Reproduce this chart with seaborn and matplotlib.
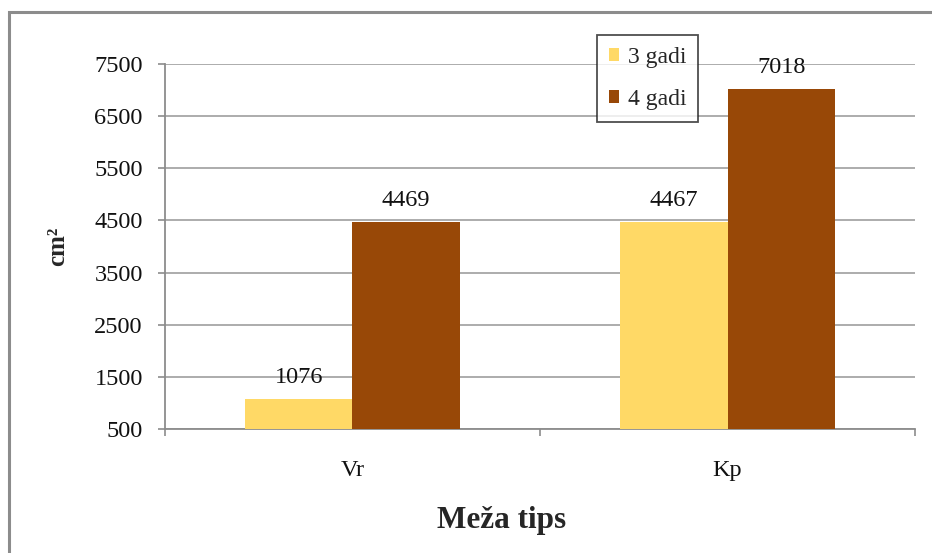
import matplotlib
matplotlib.use("Agg")
import matplotlib.pyplot as plt
import seaborn as sns
import pandas as pd
from matplotlib.patches import Rectangle

# Data
categories = ["Vr", "Kp"]
series_names = ["3 gadi", "4 gadi"]
values_3 = [1076, 4467]
values_4 = [4469, 7018]
y_ticks = [500, 1500, 2500, 3500, 4500, 5500, 6500, 7500]

df = pd.DataFrame({
    "Meža tips": categories * 2,
    "series": [series_names[0]] * len(categories) + [series_names[1]] * len(categories),
    "value": values_3 + values_4,
})

sns.set_theme(style="white")
plt.rcParams["font.family"] = ["Liberation Serif", "DejaVu Serif"]

fig = plt.figure(figsize=(9.32, 5.53), dpi=100)
ax = fig.add_axes([0.177, 0.2242, 0.8048, 0.6601])

palette = {"3 gadi": "#FFD966", "4 gadi": "#984807"}
sns.barplot(data=df, x="Meža tips", y="value", hue="series", order=categories,
            hue_order=series_names, palette=palette, width=0.573, gap=0,
            saturation=1, errorbar=None, ax=ax, legend=True, zorder=3)

for patch in ax.patches:
    patch.set_edgecolor("none")

for cont in ax.containers:
    ax.bar_label(cont, fmt="%d", padding=8, fontsize=17.5, color="#111111")

ax.set_ylim(500, 7500)
ax.set_xlim(-0.5, 1.5)
ax.set_yticks(y_ticks)
ax.set_yticklabels([str(t) for t in y_ticks], fontsize=17.5, color="#111111")
ax.set_xticks([0, 1])
ax.set_xticklabels(categories, fontsize=17.5, color="#111111")
ax.set_xticks([-0.5, 0.5, 1.5], minor=True)
ax.tick_params(axis="x", which="major", length=0, pad=22)
ax.tick_params(axis="x", which="minor", length=5, width=1.2, color="#8c8c8c",
               direction="out", bottom=True)
ax.tick_params(axis="y", which="major", length=5, width=1.2, color="#8c8c8c",
               direction="out", left=True, pad=11)

ax.grid(axis="y", color="#a6a6a6", linewidth=1.3, zorder=0)
ax.set_axisbelow(True)
for side in ["top", "right"]:
    ax.spines[side].set_visible(False)
for side in ["left", "bottom"]:
    ax.spines[side].set_color("#8c8c8c")
    ax.spines[side].set_linewidth(1.3)

ax.set_xlabel("Meža tips", fontsize=22.5, fontweight="bold", labelpad=18)
ax.xaxis.label.set_x((502 - 165) / 750)
ax.set_ylabel("cm²", fontsize=18, fontweight="bold", labelpad=18)

leg = ax.legend(loc="upper left", bbox_to_anchor=(597 / 932, 1 - 35 / 553),
                bbox_transform=fig.transFigure, fontsize=17, frameon=True,
                fancybox=False, handlelength=0.45, handleheight=0.45,
                handletextpad=0.35, labelspacing=0.9, borderpad=0.5,
                borderaxespad=0)
leg.get_frame().set_edgecolor("#222222")
leg.get_frame().set_linewidth(1.3)
leg.set_title(None)

# Outer chart border
fig.patches.append(Rectangle((8.5 / 932, -0.05), 1.2, 1 - 12.5 / 553 + 0.05,
                             transform=fig.transFigure, fill=False,
                             edgecolor="#8c8c8c", linewidth=2.2))

fig.savefig("out.png", dpi=100)
